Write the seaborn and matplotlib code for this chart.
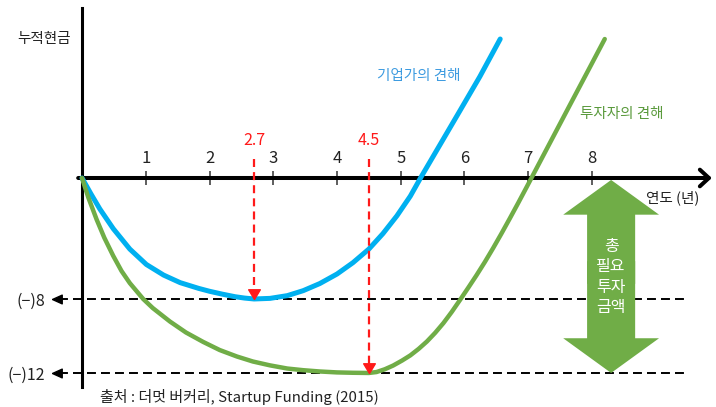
import numpy as np
import pandas as pd
import matplotlib
matplotlib.use('agg')
import matplotlib.pyplot as plt
import seaborn as sns

# 연도 눈금
years = [1, 2, 3, 4, 5, 6, 7, 8]

# 기업가의 견해 (누적현금)
blue_x = [0, 0.14, 0.28, 0.49, 0.75, 1.01, 1.28, 1.54, 1.83, 2.0, 2.2, 2.4, 2.55, 2.7,
          2.95, 3.22, 3.47, 3.73, 4.00, 4.25, 4.50, 4.72, 4.94, 5.15, 5.31, 5.62, 5.93,
          6.24, 6.56]
blue_y = [0, -1.05, -2.05, -3.35, -4.7, -5.72, -6.42, -6.92, -7.3, -7.49, -7.68, -7.85,
          -7.94, -8.0, -7.96, -7.78, -7.45, -6.98, -6.35, -5.6, -4.7, -3.68, -2.5, -1.2,
          0, 2.23, 4.46, 6.7, 9.19]

# 투자자의 견해 (누적현금)
green_x = [0, 0.1, 0.23, 0.35, 0.49, 0.62, 0.75, 0.86, 0.96, 1.11, 1.38, 1.63, 1.90,
           2.16, 2.43, 2.68, 2.95, 3.22, 3.47, 3.73, 4.00, 4.25, 4.50, 4.62, 4.75, 4.88,
           5.02, 5.15, 5.28, 5.41, 5.54, 5.67, 5.80, 5.93, 6.06, 6.19, 6.32, 6.45, 6.58,
           6.71, 6.84, 6.97, 7.11, 7.34, 7.65, 7.97, 8.20]
green_y = [0, -1.3, -2.75, -3.95, -5.15, -6.15, -6.95, -7.5, -8.0, -8.49, -9.22, -9.81,
           -10.32, -10.76, -11.11, -11.38, -11.59, -11.76, -11.85, -11.92, -11.97, -11.99,
           -12.0, -11.95, -11.8, -11.6, -11.33, -11.05, -10.7, -10.3, -9.83, -9.3, -8.7,
           -8.05, -7.25, -6.42, -5.55, -4.63, -3.67, -2.68, -1.67, -0.64, 0.48, 2.32, 4.8,
           7.35, 9.19]

# 최저점 (연도, 누적현금)
min_years = [2.7, 4.5]
min_cash = [-8, -12]
min_labels = ['2.7', '4.5']

levels = [-8, -12]
level_labels = ['(\u2212)8', '(\u2212)12']

BLUE = '#00b0f0'
GREEN = '#70ad47'
RED = '#ff1a1a'

sns.set_style('white')
plt.rcParams['font.family'] = ['Noto Sans CJK KR', 'DejaVu Sans']

# 아래쪽 구간(-8 이하)을 조금 늘려서 원본 도식과 맞춤
K = 18.5 / 15.125


def fwd(y):
    y = np.asarray(y, dtype=float)
    return np.where(y >= -8, y, -8 + (y + 8) * K)


def inv(u):
    u = np.asarray(u, dtype=float)
    return np.where(u >= -8, u, -8 + (u + 8) / K)


fig = plt.figure(figsize=(7.16, 4.07), dpi=100)
ax = fig.add_axes([0, 0, 1, 1])

df_b = pd.DataFrame({'year': blue_x, 'cash': blue_y})
df_g = pd.DataFrame({'year': green_x, 'cash': green_y})
sns.lineplot(data=df_b, x='year', y='cash', sort=False, estimator=None, color=BLUE,
             lw=3.6, solid_capstyle='round', solid_joinstyle='round', ax=ax, zorder=3)
sns.lineplot(data=df_g, x='year', y='cash', sort=False, estimator=None, color=GREEN,
             lw=3.2, solid_capstyle='round', solid_joinstyle='round', ax=ax, zorder=3)

ax.set_yscale('function', functions=(fwd, inv))
ax.set_xlim(-82 / 63.75, 634 / 63.75)
ax.set_ylim(-13.84, 11.77)

# 수평 점선 + 왼쪽 화살촉
ax.hlines(levels, -0.36, 9.5, colors='k', lw=1.4, linestyles=(0, (4.6, 2.6)), zorder=1)
left_tip = [(0, 0), (1, 0.45), (1, -0.45), (0, 0)]
ax.plot([-0.47] * len(levels), levels, ls='none', marker=left_tip, ms=14, color='k', zorder=2)

# 빨간 점선 (최저점 표시)
down_tip = [(0, 0), (-0.6, 1), (0.6, 1), (0, 0)]
for x, y, lab in zip(min_years, min_cash, min_labels):
    ax.plot([x, x], [1.26, y + 0.5], color=RED, lw=1.6, ls=(0, (3.6, 2.3)), zorder=4)
    ax.plot([x], [y], ls='none', marker=down_tip, ms=14, color=RED, zorder=5)
    ax.text(x, 2.5, lab, color=RED, fontsize=11.5, ha='center', va='center')

# x축 화살표
ax.annotate('', xy=(9.88, 0), xytext=(-0.06, 0),
            arrowprops=dict(arrowstyle='->,head_length=0.65,head_width=0.6', mutation_scale=10,
                            lw=2.9, color='k', shrinkA=0, shrinkB=0), zorder=2)

ax.spines['top'].set_position(('data', 0))
ax.spines['top'].set_color('none')
ax.spines['bottom'].set_visible(False)
ax.spines['right'].set_visible(False)
ax.spines['left'].set_position(('data', 0))
ax.spines['left'].set_bounds(-12.76, 11.24)
ax.spines['left'].set_linewidth(2.2)
ax.spines['left'].set_color('k')

ax.xaxis.set_ticks_position('top')
ax.set_xticks(years)
ax.tick_params(axis='x', direction='inout', length=10, width=1.1, color='#333',
               labelsize=12, pad=3.2, labelcolor='#222')
ax.set_yticks(levels, labels=level_labels)
ax.tick_params(axis='y', length=0, pad=26.6, labelsize=11.5, labelcolor='#222')
ax.set_xlabel('')
ax.set_ylabel('')

# 총 필요 투자 금액 (양방향 화살표)
arrow_x = 8.30
for end, start in [(-0.13, -7.0), (-12, -5.5)]:
    ax.annotate('', xy=(arrow_x, end), xytext=(arrow_x, start),
                arrowprops=dict(arrowstyle='simple,head_length=2.5,head_width=6.9,tail_width=3.46',
                                mutation_scale=10, fc=GREEN, ec='none', lw=0,
                                shrinkA=0, shrinkB=0), zorder=4)
ax.text(arrow_x, -6.55, '총\n필요\n투자\n금액', color='white', fontsize=11.5,
        ha='center', va='center', linespacing=1.25, zorder=6)

ax.text(-0.60, 9.19, '누적현금', ha='center', va='center', fontsize=10.5, color='#222')
ax.text(9.27, -1.32, '연도 (년)', ha='center', va='center', fontsize=10.5, color='#222')
ax.text(5.29, 6.74, '기업가의 견해', ha='center', va='center', fontsize=10.5, color='#3d9be0')
ax.text(8.47, 4.23, '투자자의 견해', ha='center', va='center', fontsize=10.5, color='#5a9a3c')
fig.text(100 / 716, 1 - 397 / 407, '출처 : 더멋 버커리, Startup Funding (2015)',
         ha='left', va='center', fontsize=10.8, color='#222')

fig.savefig('out.png', dpi=100)
